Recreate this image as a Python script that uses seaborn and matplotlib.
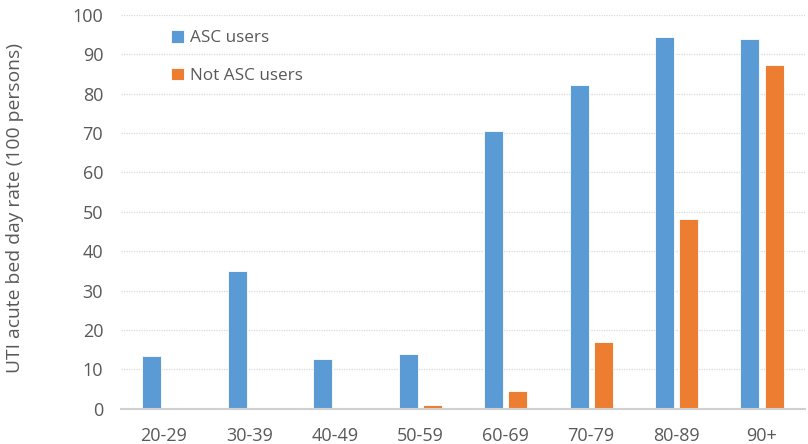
import numpy as np
import pandas as pd
import matplotlib
matplotlib.use("Agg")
import matplotlib.pyplot as plt
import seaborn as sns

age_groups = ["20-29", "30-39", "40-49", "50-59", "60-69", "70-79", "80-89", "90+"]
asc_users = [13.5, 35.0, 12.7, 13.8, 70.6, 82.3, 94.3, 94.0]
not_asc_users = [np.nan, np.nan, np.nan, 1.0, 4.6, 17.0, 48.1, 87.2]
series_names = ["ASC users", "Not ASC users"]
y_ticks = [0, 10, 20, 30, 40, 50, 60, 70, 80, 90, 100]

df = pd.DataFrame({
    "age": age_groups * 2,
    "rate": asc_users + not_asc_users,
    "group": [series_names[0]] * len(age_groups) + [series_names[1]] * len(age_groups),
})

sns.set_theme(style="white")
plt.rcParams["font.family"] = ["Open Sans", "DejaVu Sans"]
text_grey = "#595959"

fig = plt.figure(figsize=(8.08, 4.44), dpi=100)
ax = fig.add_axes([0.150, 0.0795, 0.846, 0.887])

sns.barplot(
    data=df, x="age", y="rate", hue="group", order=age_groups,
    hue_order=series_names, palette=["#5b9bd5", "#ed7d31"], saturation=1,
    width=0.566, gap=0.215, edgecolor="#ffffff", linewidth=0.6,
    ax=ax, legend=True,
)

ax.set_ylim(0, 100)
ax.set_xlim(-0.5, len(age_groups) - 0.5)
ax.set_yticks(y_ticks)
ax.yaxis.grid(True, color="#d9d9d9", linestyle=(0, (1, 1)), linewidth=0.9)
ax.set_axisbelow(True)
for side in ["top", "right", "left"]:
    ax.spines[side].set_visible(False)
ax.spines["bottom"].set_color("#d0d0d0")
ax.spines["bottom"].set_linewidth(1.5)
ax.tick_params(axis="both", length=0, labelsize=13, labelcolor=text_grey)
ax.tick_params(axis="x", pad=13)
ax.tick_params(axis="y", pad=13)
ax.set_xlabel("")
ax.set_ylabel("UTI acute bed day rate (100 persons)", fontsize=13.9, color=text_grey)
ax.yaxis.set_label_coords(-0.142, 0.51)

leg = ax.legend(
    loc="upper left", bbox_to_anchor=(0.05, 1.0), frameon=False,
    fontsize=12.3, labelcolor=text_grey, handlelength=0.75, handleheight=0.75,
    handletextpad=0.35, labelspacing=1.25,
)

fig.savefig("out.png", dpi=100)
